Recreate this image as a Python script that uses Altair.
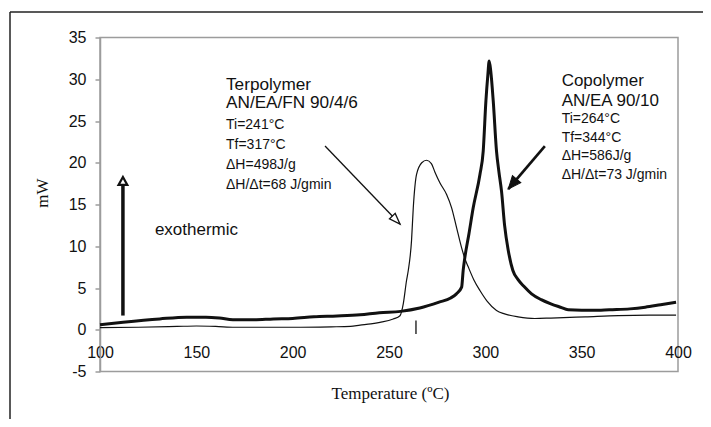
import altair as alt
import pandas as pd

# ---------------- data ----------------
copo_t = [100, 112, 131, 145, 155, 162, 169, 180, 190, 200, 211, 223, 235, 245, 256,
          266, 276, 282, 285, 287.7, 288.5, 289.4, 291.5, 293.7, 297.2, 298.9, 300.3,
          301.3, 302, 302.8, 304.1, 305.8, 307, 308.4, 310, 311.9, 314.3, 317, 320,
          324, 329, 334, 339, 343, 350, 360, 366, 375, 383, 391, 399]
copo_v = [0.6, 0.9, 1.3, 1.5, 1.5, 1.4, 1.2, 1.2, 1.3, 1.35, 1.55, 1.65, 1.8, 2.05, 2.2,
          2.6, 3.3, 3.8, 4.3, 5.1, 7.1, 8.7, 11.5, 14.6, 18.6, 21.4, 27.4,
          30.5, 32.2, 31.0, 27.4, 21.4, 19.0, 16.6, 12.5, 9.5, 7.1, 6.0, 5.2,
          4.3, 3.6, 3.1, 2.7, 2.4, 2.35, 2.35, 2.4, 2.5, 2.7, 3.0, 3.3]

ter_t = [100, 120, 140, 150, 160, 170, 200, 220, 230, 235, 240.6, 245.3, 252.2, 255.7,
         257.4, 259.1, 260, 261.7, 262.6, 264.3, 267, 269.5, 272, 273.8, 276.4, 279.9,
         282.5, 285.1, 287.7, 289.4, 291, 294, 297.2, 301, 305.8, 310, 317, 325.7, 334,
         352, 369, 385, 399]
ter_v = [0.25, 0.3, 0.4, 0.45, 0.4, 0.3, 0.3, 0.35, 0.4, 0.55, 0.7, 0.88, 1.28, 1.68,
         3.1, 5.9, 7.1, 10.7, 14.6, 18.6, 20.0, 20.3, 19.9, 18.9, 17.6, 16.2,
         14.6, 12.2, 9.8, 8.5, 7.6, 6.0, 4.7, 3.4, 2.3, 1.9, 1.55, 1.35, 1.4,
         1.55, 1.7, 1.75, 1.75]

x_ticks = [100, 150, 200, 250, 300, 350, 400]
y_ticks = [-5, 0, 5, 10, 15, 20, 25, 30, 35]

ter_title = ["Terpolymer", "AN/EA/FN 90/4/6"]
ter_title_y = [28.77, 26.5]
ter_info = ["Ti=241°C", "Tf=317°C", "ΔH=498J/g", "ΔH/Δt=68 J/gmin"]
ter_info_y = [24.0, 21.65, 19.25, 16.86]
ter_text_x = 165.4

copo_title = ["Copolymer", "AN/EA 90/10"]
copo_title_y = [29.15, 26.85]
copo_info = ["Ti=264°C", "Tf=344°C", "ΔH=586J/g", "ΔH/Δt=73 J/gmin"]
copo_info_y = [24.8, 22.5, 20.33, 18.05]
copo_text_x = 339.6

exo_label = "exothermic"
exo_x, exo_y = 128.5, 11.34

# arrows: start (t, v) -> tip (t2, v2), in data units
exo_arrow = dict(t=111.9, v=1.7, t2=111.9, v2=18.3)
ter_arrow = dict(t=216.8, v=22.0, t2=255.7, v2=12.66)
copo_arrow = dict(t=330.9, v=22.0, t2=311.9, v2=16.85)
ti_mark = dict(t=264, v=-0.5, v2=1.1)

# ---------------- chart ----------------
SANS = "Liberation Sans"
SERIF = "Liberation Serif"
INK = "#111111"
GRAY = "#9c9c9c"

xs = alt.Scale(domain=[100, 400], nice=False, zero=False)
ys = alt.Scale(domain=[-5, 35], nice=False, zero=False)

x_axis = alt.Axis(values=x_ticks, offset=-41.75, domain=False, ticks=False, tickSize=0,
                  grid=False, labelPadding=23, labelBaseline="middle", labelFont=SANS,
                  labelFontSize=16, labelColor=INK, labelFlush=False, labelOverlap=False,
                  title="Temperature (ºC)", titleFont=SERIF, titleFontSize=17,
                  titleFontWeight="normal", titleColor=INK, titleX=290, titleY=64,
                  titleBaseline="middle", titleAlign="center")
y_axis = alt.Axis(values=y_ticks, domainColor=GRAY, domainWidth=1.5, tickColor=GRAY,
                  tickWidth=1.5, tickSize=5, grid=False, labelPadding=9, labelFont=SANS,
                  labelFontSize=16, labelColor=INK, labelFlush=False, labelOverlap=False,
                  labelExpr="'' + datum.value",
                  title="mW", titleFont=SERIF, titleFontSize=17, titleFontWeight="normal",
                  titleColor=INK, titleX=-58, titleY=155, titleAngle=270,
                  titleBaseline="middle", titleAlign="center")

X = lambda: alt.X("t:Q", scale=xs)
Y = lambda: alt.Y("v:Q", scale=ys)

copo_df = pd.DataFrame({"t": copo_t, "v": copo_v})
ter_df = pd.DataFrame({"t": ter_t, "v": ter_v})

copo_line = alt.Chart(copo_df).mark_line(color=INK, strokeWidth=3, interpolate="monotone").encode(
    x=alt.X("t:Q", scale=xs, axis=x_axis),
    y=alt.Y("v:Q", scale=ys, axis=y_axis),
)
ter_line = alt.Chart(ter_df).mark_line(color=INK, strokeWidth=1.2, interpolate="monotone").encode(
    x=X(), y=Y(),
)

def text_layer(labels, ys_, xval, size):
    df = pd.DataFrame({"label": labels, "v": ys_, "t": [xval] * len(labels)})
    return alt.Chart(df).mark_text(align="left", baseline="alphabetic", font=SANS,
                                   fontSize=size, color=INK).encode(
        x=X(), y=Y(), text="label:N",
    )

texts = [
    text_layer(ter_title, ter_title_y, ter_text_x, 17.2),
    text_layer(ter_info, ter_info_y, ter_text_x, 14),
    text_layer(copo_title, copo_title_y, copo_text_x, 17),
    text_layer(copo_info, copo_info_y, copo_text_x, 14),
    text_layer([exo_label], [exo_y], exo_x, 17),
]

def shaft(a, width):
    df = pd.DataFrame([a])
    return alt.Chart(df).mark_rule(color=INK, strokeWidth=width).encode(
        x=X(), x2="t2:Q", y=Y(), y2="v2:Q",
    )

def head(a, angle, path, size, fill, sw):
    df = pd.DataFrame([{"t": a["t2"], "v": a["v2"]}])
    return alt.Chart(df).mark_point(shape=path, size=size, angle=angle, filled=False,
                                    fill=fill, fillOpacity=1, stroke=INK, strokeWidth=sw,
                                    opacity=1).encode(x=X(), y=Y())

exo_shaft = dict(exo_arrow)
exo_shaft["v2"] = exo_arrow["v2"] - 0.8
arrows = [
    shaft(exo_shaft, 3.5),
    head(exo_arrow, 0, "M0,0L-0.55,1L0.55,1Z", 256, "white", 2.2),
    shaft(ter_arrow, 1.3),
    head(ter_arrow, 136, "M0,0L-0.36,1L0.36,1Z", 484, "white", 1.3),
    shaft(copo_arrow, 2.6),
    head(copo_arrow, 220, "M0,0L-0.42,1L0.42,1Z", 676, INK, 1),
]

ti_rule = alt.Chart(pd.DataFrame([ti_mark])).mark_rule(color=INK, strokeWidth=1.3).encode(
    x=X(), y=Y(), y2="v2:Q",
)

# outer figure frame (top and left edges)
frame_top = alt.Chart(pd.DataFrame({"a": [0]})).mark_rule(color="#222", strokeWidth=1.5).encode(
    x=alt.value(-90), x2=alt.value(620), y=alt.value(-25.5))
frame_left = alt.Chart(pd.DataFrame({"a": [0]})).mark_rule(color="#222", strokeWidth=1.5).encode(
    x=alt.value(-90), y=alt.value(-25.5), y2=alt.value(400))

chart = alt.layer(
    copo_line, ter_line, ti_rule, *arrows, *texts, frame_top, frame_left
).properties(
    width=578, height=334,
    autosize=alt.AutoSizeParams(type="none"),
    padding={"left": 92, "top": 29.5, "right": 25, "bottom": 47},
    background="white",
).configure_view(stroke=GRAY, strokeWidth=1.5)

chart.save("out.html", embed_options={"renderer": "svg", "actions": False})
